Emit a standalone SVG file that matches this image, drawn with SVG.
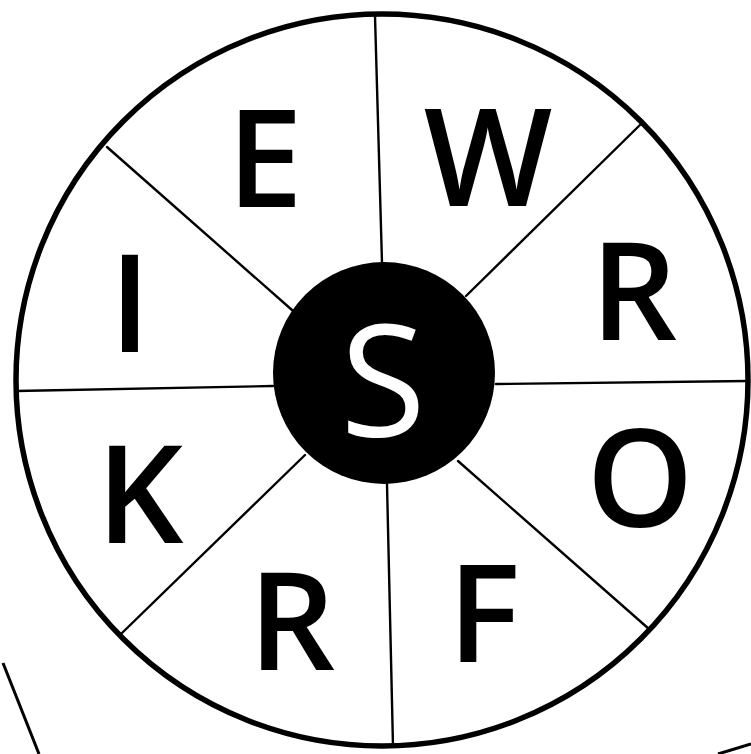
<svg xmlns="http://www.w3.org/2000/svg" width="751" height="754" viewBox="0 0 751 754">
<style>
.spoke{stroke:#000;stroke-width:2.4;fill:none;stroke-linecap:round}
.stray{stroke:#000;stroke-width:3;fill:none}
.lbl{font-family:"Open Sans","Liberation Sans",sans-serif;font-size:136px;font-weight:600;fill:#000;text-anchor:middle}
</style>
<rect width="751" height="754" fill="#fff"/>
<g id="connectors">
<line class="spoke" x1="375" y1="16" x2="382" y2="263"/>
<line class="spoke" x1="642" y1="123" x2="466" y2="296"/>
<line class="spoke" x1="496" y1="384" x2="748" y2="381"/>
<line class="spoke" x1="458" y1="461" x2="649" y2="629"/>
<line class="spoke" x1="387" y1="484" x2="393" y2="746"/>
<line class="spoke" x1="305" y1="455" x2="122" y2="633"/>
<line class="spoke" x1="16" y1="391" x2="273" y2="386"/>
<line class="spoke" x1="107" y1="147" x2="292" y2="310"/>
<line class="stray" x1="3" y1="663" x2="39" y2="754"/>
<line class="stray" x1="718" y1="754" x2="751" y2="744"/>
</g>
<g id="outer"><circle cx="382" cy="380" r="366" fill="none" stroke="#000" stroke-width="5.5"/></g>
<g id="center"><circle cx="384" cy="373" r="111" fill="#000"/><text class="lbl" x="383" y="436" style="font-size:156px;font-weight:400;fill:#fff">S</text></g>
<g id="n-E"><text class="lbl" x="265" y="207">E</text></g>
<g id="n-W"><text class="lbl" x="488" y="206">W</text></g>
<g id="n-R1"><text class="lbl" x="634" y="340">R</text></g>
<g id="n-O"><text class="lbl" x="640" y="527">O</text></g>
<g id="n-F"><text class="lbl" x="484" y="662">F</text></g>
<g id="n-R2"><text class="lbl" x="292" y="670">R</text></g>
<g id="n-K"><text class="lbl" x="140" y="543">K</text></g>
<g id="n-I"><text class="lbl" x="130" y="352">I</text></g>
</svg>
